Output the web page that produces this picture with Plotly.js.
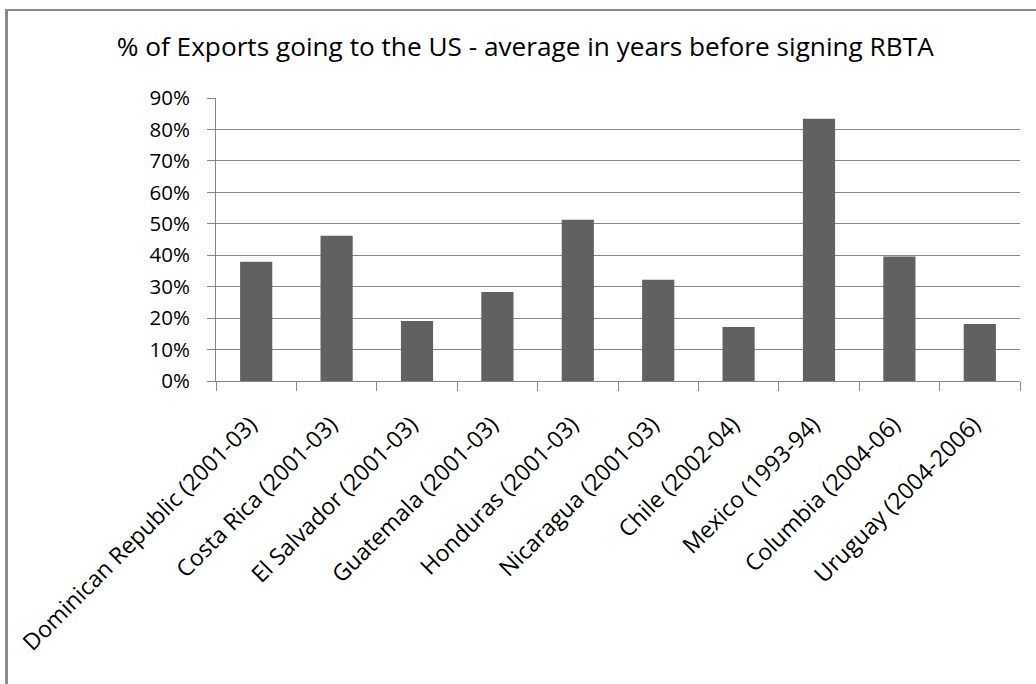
<!DOCTYPE html>
<html>
<head>
<meta charset="utf-8">
<script src="https://cdn.plot.ly/plotly-3.0.1.min.js"></script>
<style>
  html, body { margin: 0; padding: 0; background: #fff; }
  #wrap { position: relative; width: 1036px; height: 684px; overflow: hidden; }
  #frame { position: absolute; left: 5px; top: 9px; width: 1100px; height: 800px;
           border-top: 2px solid #8a8a8a; border-left: 3px solid #8a8a8a; pointer-events: none; z-index: 5; }
  #chart { position: absolute; left: 0; top: 0; width: 1036px; height: 684px; }
</style>
</head>
<body>
<div id="wrap">
  <div id="chart"></div>
  <div id="frame"></div>
</div>
<script>
const categories = [
  "Dominican Republic (2001-03)",
  "Costa Rica (2001-03)",
  "El Salvador (2001-03)",
  "Guatemala (2001-03)",
  "Honduras (2001-03)",
  "Nicaragua (2001-03)",
  "Chile (2002-04)",
  "Mexico (1993-94)",
  "Columbia (2004-06)",
  "Uruguay (2004-2006)"
];
const shareToUS = [0.379, 0.462, 0.191, 0.283, 0.513, 0.322, 0.172, 0.834, 0.396, 0.181];
const yTickVals = [0, 0.1, 0.2, 0.3, 0.4, 0.5, 0.6, 0.7, 0.8, 0.9];
const yTickText = ["0%", "10%", "20%", "30%", "40%", "50%", "60%", "70%", "80%", "90%"];
const chartTitle = "% of Exports going to the US - average in years before signing RBTA";

const fontFamily = "'Open Sans', Lato, sans-serif";

const data = [{
  type: "bar",
  x: categories,
  y: shareToUS,
  marker: { color: "#616161", line: { width: 0 } },
  hoverinfo: "x+y"
}];

const layout = {
  width: 1036,
  height: 684,
  margin: { l: 216, r: 16, t: 98, b: 303, pad: 0 },
  paper_bgcolor: "#ffffff",
  plot_bgcolor: "#ffffff",
  showlegend: false,
  bargap: 0.6,
  font: { family: fontFamily, color: "#000000" },
  title: {
    text: chartTitle,
    font: { family: fontFamily, size: 26.2, color: "#000000" },
    xref: "container", yref: "container",
    x: 0.507, xanchor: "center",
    y: 1 - 47 / 684, yanchor: "middle"
  },
  xaxis: {
    type: "category",
    showline: true, linecolor: "#868686", linewidth: 1,
    ticks: "outside", ticklen: 9, tickcolor: "#868686", tickwidth: 1,
    tickson: "boundaries",
    tickangle: -45,
    ticklabelshift: -6,
    ticklabelstandoff: 20,
    showgrid: false,
    tickfont: { family: fontFamily, size: 23, color: "#000000" },
    automargin: false
  },
  yaxis: {
    range: [0, 0.9],
    tickvals: yTickVals,
    ticktext: yTickText,
    showline: true, linecolor: "#868686", linewidth: 1,
    ticks: "outside", ticklen: 8, tickcolor: "#868686", tickwidth: 1,
    ticklabelstandoff: 13,
    showgrid: true, gridcolor: "#868686", gridwidth: 1,
    zeroline: false,
    tickfont: { family: fontFamily, size: 20.5, color: "#000000" },
    automargin: false
  }
};

Plotly.newPlot("chart", data, layout, { staticPlot: true, displayModeBar: false });
</script>
</body>
</html>
